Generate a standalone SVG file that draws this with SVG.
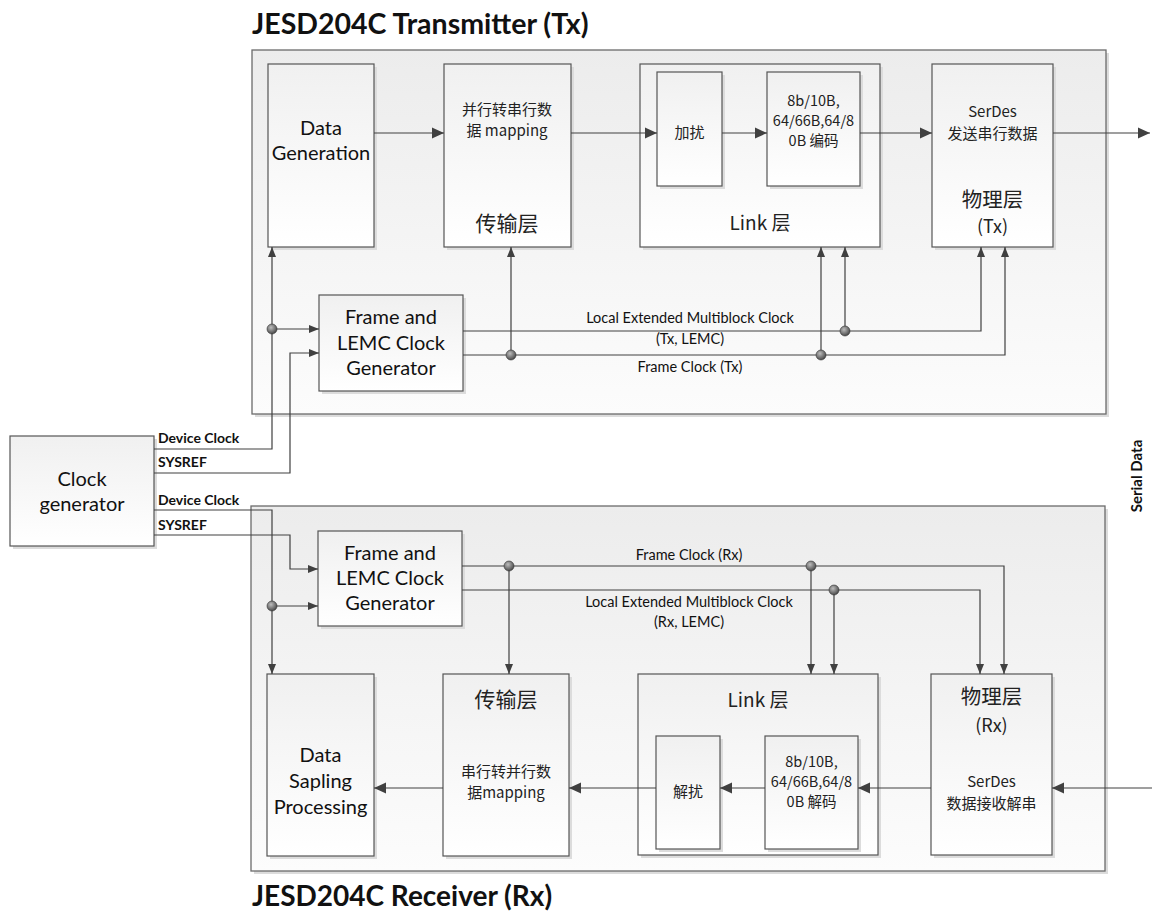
<svg xmlns="http://www.w3.org/2000/svg" width="1152" height="920" viewBox="0 0 1152 920">
<defs>
<linearGradient id="gC" x1="0" y1="0" x2="0" y2="1"><stop offset="0" stop-color="#ececec"/><stop offset="1" stop-color="#fcfcfc"/></linearGradient>
<linearGradient id="gB" x1="0" y1="0" x2="0" y2="1"><stop offset="0" stop-color="#f0f0f0"/><stop offset="1" stop-color="#ffffff"/></linearGradient>
<radialGradient id="gD" cx="0.4" cy="0.35" r="0.7"><stop offset="0" stop-color="#bdbdbd"/><stop offset="1" stop-color="#404040"/></radialGradient>
<marker id="ah" markerUnits="userSpaceOnUse" markerWidth="12" markerHeight="12" refX="12" refY="6" orient="auto"><path d="M0,0.5 L12,6 L0,11.5 z" fill="#404040"/></marker>
<marker id="as" markerUnits="userSpaceOnUse" markerWidth="10" markerHeight="10" refX="10" refY="5" orient="auto"><path d="M0,1 L10,5 L0,9 z" fill="#404040"/></marker>
</defs>
<style>
.cont{fill:url(#gC);stroke:#6b6b6b;stroke-width:1.3}
.box{fill:url(#gB);stroke:#555;stroke-width:1.2}
.sh{fill:#dcdcdc}
.t{font-family:Lato,"Noto Sans","Noto Sans CJK SC",sans-serif;fill:#111;text-anchor:middle}
.cn{font-family:"Noto Sans CJK SC",Lato,sans-serif;fill:#222;text-anchor:middle}
.b{font-family:Lato,"Noto Sans",sans-serif;font-weight:bold;fill:#111}
.ln{fill:none;stroke:#404040;stroke-width:1.2}
.a{marker-end:url(#ah)}
.s{marker-end:url(#as)}
.dot{fill:url(#gD);stroke:#333;stroke-width:0.6}
</style>

<text class="b" x="252" y="34" font-size="28.5">JESD204C Transmitter (Tx)</text>
<text class="b" x="252" y="906" font-size="28">JESD204C Receiver (Rx)</text>

<g id="tx-container"><rect class="sh" x="255" y="53" width="854" height="364"/><rect class="cont" x="252" y="50" width="854" height="364"/></g>
<g id="rx-container"><rect class="sh" x="254" y="509" width="854" height="365"/><rect class="cont" x="251" y="506" width="854" height="365"/></g>

<g id="clock-generator"><rect class="sh" x="13" y="439" width="144" height="110"/><rect class="box" x="10" y="436" width="144" height="110"/>
<text class="t" x="82" y="486" font-size="20">Clock</text><text class="t" x="82" y="511" font-size="20">generator</text></g>

<g id="tx-data-generation"><rect class="sh" x="271" y="67" width="106" height="183"/><rect class="box" x="268" y="64" width="106" height="183"/>
<text class="t" x="321" y="135" font-size="20">Data</text><text class="t" x="321" y="160" font-size="20">Generation</text></g>

<g id="tx-transport"><rect class="sh" x="447" y="67" width="127" height="183"/><rect class="box" x="444" y="64" width="127" height="183"/>
<text class="cn" x="507" y="115" font-size="15">并行转串行数</text><text class="cn" x="507" y="136" font-size="15">据 mapping</text>
<text class="cn" x="507" y="231" font-size="21">传输层</text></g>

<g id="tx-link"><rect class="sh" x="643" y="67" width="240" height="183"/><rect class="box" x="640" y="64" width="240" height="183"/>
<text class="cn" x="760" y="230" font-size="19">Link 层</text></g>

<g id="tx-scramble"><rect class="sh" x="660" y="75" width="65" height="114"/><rect class="box" x="657" y="72" width="65" height="114"/>
<text class="cn" x="689.5" y="138" font-size="15">加扰</text></g>

<g id="tx-encode"><rect class="sh" x="770" y="75" width="93" height="114"/><rect class="box" x="767" y="72" width="93" height="114"/>
<text class="cn" x="813.5" y="106" font-size="14.5">8b/10B,</text><text class="cn" x="813.5" y="126" font-size="14.5">64/66B,64/8</text><text class="cn" x="813.5" y="146" font-size="14.5">0B 编码</text></g>

<g id="tx-phy"><rect class="sh" x="935" y="67" width="121" height="183"/><rect class="box" x="932" y="64" width="121" height="183"/>
<text class="cn" x="992.5" y="117" font-size="15">SerDes</text><text class="cn" x="992.5" y="139" font-size="15">发送串行数据</text>
<text class="cn" x="992.5" y="207" font-size="20.5">物理层</text><text class="cn" x="992.5" y="233" font-size="18">(Tx)</text></g>

<g id="tx-frame-gen"><rect class="sh" x="322" y="298" width="144" height="96"/><rect class="box" x="319" y="295" width="144" height="96"/>
<text class="t" x="391" y="324" font-size="20">Frame and</text><text class="t" x="391" y="350" font-size="20">LEMC Clock</text><text class="t" x="391" y="375" font-size="20">Generator</text></g>

<g id="rx-frame-gen"><rect class="sh" x="321" y="534" width="144" height="95"/><rect class="box" x="318" y="531" width="144" height="95"/>
<text class="t" x="390" y="560" font-size="20">Frame and</text><text class="t" x="390" y="585" font-size="20">LEMC Clock</text><text class="t" x="390" y="610" font-size="20">Generator</text></g>

<g id="rx-data-processing"><rect class="sh" x="270" y="677" width="107" height="182"/><rect class="box" x="267" y="674" width="107" height="182"/>
<text class="t" x="320.5" y="762" font-size="20">Data</text><text class="t" x="320.5" y="788" font-size="20">Sapling</text><text class="t" x="320.5" y="814" font-size="20">Processing</text></g>

<g id="rx-transport"><rect class="sh" x="446" y="677" width="126" height="182"/><rect class="box" x="443" y="674" width="126" height="182"/>
<text class="cn" x="506" y="707" font-size="21">传输层</text>
<text class="cn" x="506" y="777" font-size="15">串行转并行数</text><text class="cn" x="506" y="798" font-size="15">据mapping</text></g>

<g id="rx-link"><rect class="sh" x="641" y="677" width="240" height="181"/><rect class="box" x="638" y="674" width="240" height="181"/>
<text class="cn" x="758" y="707" font-size="19">Link 层</text></g>

<g id="rx-descramble"><rect class="sh" x="659" y="739" width="64" height="113"/><rect class="box" x="656" y="736" width="64" height="113"/>
<text class="cn" x="688" y="797" font-size="15">解扰</text></g>

<g id="rx-decode"><rect class="sh" x="768" y="739" width="93" height="113"/><rect class="box" x="765" y="736" width="93" height="113"/>
<text class="cn" x="811.5" y="767" font-size="14.5">8b/10B,</text><text class="cn" x="811.5" y="787" font-size="14.5">64/66B,64/8</text><text class="cn" x="811.5" y="807" font-size="14.5">0B 解码</text></g>

<g id="rx-phy"><rect class="sh" x="934" y="677" width="121" height="181"/><rect class="box" x="931" y="674" width="121" height="181"/>
<text class="cn" x="991.5" y="704" font-size="20.5">物理层</text><text class="cn" x="991.5" y="732" font-size="18">(Rx)</text>
<text class="cn" x="991.5" y="787" font-size="15">SerDes</text><text class="cn" x="991.5" y="809" font-size="15">数据接收解串</text></g>

<g id="connectors">
<path class="ln a" d="M374,133 H444"/>
<path class="ln a" d="M571,133 H657"/>
<path class="ln a" d="M722,133 H767"/>
<path class="ln a" d="M860,133 H932"/>
<path class="ln a" d="M1053,133 H1150"/>
<path class="ln s" d="M154,449 H272 V247"/>
<path class="ln s" d="M272,329 H319"/>
<path class="ln s" d="M154,473 H290 V353 H319"/>
<path class="ln s" d="M463,331 H981 V247"/>
<path class="ln s" d="M845,331 V247"/>
<path class="ln s" d="M463,355 H1005 V247"/>
<path class="ln s" d="M511,355 V247"/>
<path class="ln s" d="M821,355 V247"/>
<path class="ln s" d="M154,510 H272 V674"/>
<path class="ln s" d="M272,606 H318"/>
<path class="ln s" d="M154,535 H290 V569 H318"/>
<path class="ln s" d="M462,566 H1004 V674"/>
<path class="ln s" d="M509,566 V674"/>
<path class="ln s" d="M811,566 V674"/>
<path class="ln s" d="M462,590 H980 V674"/>
<path class="ln s" d="M834,590 V674"/>
<path class="ln a" d="M1152,788 H1052"/>
<path class="ln a" d="M931,788 H858"/>
<path class="ln a" d="M765,788 H720"/>
<path class="ln a" d="M656,788 H569"/>
<path class="ln a" d="M443,788 H374"/>
<circle class="dot" cx="272" cy="329" r="5"/>
<circle class="dot" cx="511" cy="355" r="5"/>
<circle class="dot" cx="821" cy="355" r="5"/>
<circle class="dot" cx="845" cy="331" r="5"/>
<circle class="dot" cx="272" cy="606" r="5"/>
<circle class="dot" cx="509" cy="566" r="5"/>
<circle class="dot" cx="811" cy="566" r="5"/>
<circle class="dot" cx="834" cy="590" r="5"/>
<text class="b" x="158" y="443" font-size="14">Device Clock</text>
<text class="b" x="158" y="467" font-size="14">SYSREF</text>
<text class="b" x="158" y="505" font-size="14">Device Clock</text>
<text class="b" x="158" y="530" font-size="14">SYSREF</text>
<text class="t" x="690" y="323" font-size="14.5">Local Extended Multiblock Clock</text>
<text class="t" x="690" y="344" font-size="14.5">(Tx, LEMC)</text>
<text class="t" x="690" y="372" font-size="14.5">Frame Clock (Tx)</text>
<text class="t" x="689" y="560" font-size="14.5">Frame Clock (Rx)</text>
<text class="t" x="689" y="607" font-size="14.5">Local Extended Multiblock Clock</text>
<text class="t" x="689" y="627" font-size="14.5">(Rx, LEMC)</text>
<text class="b" x="0" y="0" font-size="15" text-anchor="middle" transform="translate(1142,476) rotate(-90)">Serial Data</text>
</g>
</svg>
